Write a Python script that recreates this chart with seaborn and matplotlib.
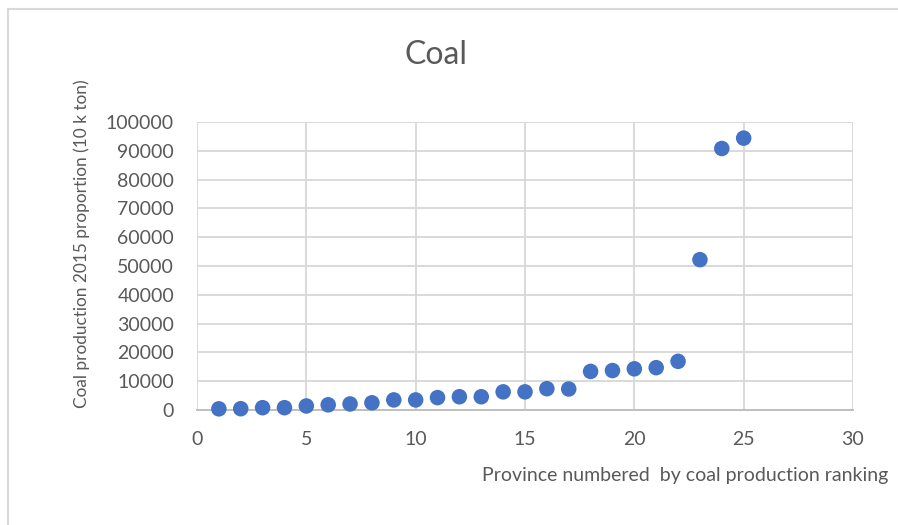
import matplotlib
matplotlib.use("Agg")
import matplotlib.pyplot as plt
import seaborn as sns
import pandas as pd
from matplotlib.patches import Rectangle

# Provincial coal output, 2015 (10 k ton), ranked ascending
rank = list(range(1, 26))
production = [400, 450, 800, 800, 1400, 1800, 2100, 2500, 3500, 3500,
              4300, 4600, 4600, 6300, 6300, 7400, 7300, 13400, 13700, 14300,
              14700, 16900, 52200, 90800, 94400]

x_ticks = [0, 5, 10, 15, 20, 25, 30]
y_ticks = list(range(0, 100001, 10000))

df = pd.DataFrame({"rank": rank, "production": production})

sns.set_theme(style="white")
plt.rcParams["font.family"] = ["Lato", "DejaVu Sans"]

text_color = "#595959"
grid_color = "#d9d9d9"

fig = plt.figure(figsize=(8.98, 5.25), dpi=100)
ax = fig.add_axes([197 / 898, 1 - 410 / 525, (853 - 197) / 898, (410 - 122) / 525])

sns.scatterplot(data=df, x="rank", y="production", ax=ax,
                s=125, color="#4472C4", edgecolor="none", zorder=3, clip_on=False)

ax.set_xlim(0, 30)
ax.set_ylim(0, 100000)
ax.set_xticks(x_ticks)
ax.set_yticks(y_ticks)
ax.set_xticklabels([str(v) for v in x_ticks])
ax.set_yticklabels([str(v) for v in y_ticks])
ax.tick_params(axis="both", length=0, labelsize=14, colors=text_color)
ax.tick_params(axis="y", pad=16.5)
ax.tick_params(axis="x", pad=15)

ax.grid(True, color=grid_color, linewidth=1.4)
ax.set_axisbelow(True)
for side in ["top", "right", "left"]:
    ax.spines[side].set_visible(False)
ax.spines["bottom"].set_color("#bfbfbf")
ax.spines["bottom"].set_linewidth(1.4)

ax.set_xlabel("")
ax.set_ylabel("")

fig.text(436 / 898, 1 - 55 / 525, "Coal", ha="center", va="center",
         fontsize=23, color=text_color)
fig.text(82 / 898, 1 - 244 / 525, "Coal production 2015 proportion (10 k ton)",
         rotation=90, ha="center", va="center", fontsize=12.4, color=text_color)
fig.text(888 / 898, 1 - 476 / 525, "Province numbered  by coal production ranking",
         ha="right", va="center", fontsize=14, color=text_color)

# chart-area frame
fig.patches.append(Rectangle((8 / 898, -0.05), 1.0, 1 - 9 / 525 + 0.05,
                             transform=fig.transFigure, fill=False,
                             edgecolor="#d9d9d9", linewidth=1.5))

fig.savefig("out.png", dpi=100)
